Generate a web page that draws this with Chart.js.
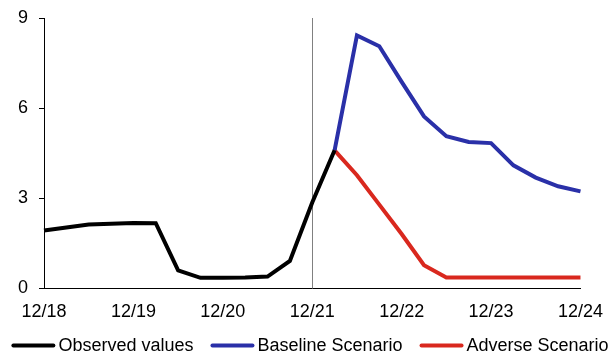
<!DOCTYPE html>
<html>
<head>
<meta charset="utf-8">
<script src="https://cdn.jsdelivr.net/npm/chart.js@4/dist/chart.umd.min.js"></script>
<style>
  html, body { margin: 0; padding: 0; background: #fff; }
  #wrap { width: 616px; height: 356px; position: relative; }
</style>
</head>
<body>
<div id="wrap"><canvas id="c"></canvas></div>
<script>
// Quarter-end dates, Dec 2018 to Dec 2024
const quarters = [
  '12/18', '03/19', '06/19', '09/19',
  '12/19', '03/20', '06/20', '09/20',
  '12/20', '03/21', '06/21', '09/21',
  '12/21', '03/22', '06/22', '09/22',
  '12/22', '03/23', '06/23', '09/23',
  '12/23', '03/24', '06/24', '09/24',
  '12/24'
];

const observedValues = [
  1.92, 2.02, 2.12, 2.14, 2.17, 2.16, 0.59, 0.34, 0.34, 0.35, 0.38, 0.90,
  2.85, 4.59,
  null, null, null, null, null, null, null, null, null, null, null
];

const baselineScenario = [
  null, null, null, null, null, null, null, null, null, null, null, null, null,
  4.59, 8.42, 8.06, 6.87, 5.72, 5.06, 4.87, 4.83, 4.09, 3.68, 3.39, 3.22
];

const adverseScenario = [
  null, null, null, null, null, null, null, null, null, null, null, null, null,
  4.59, 3.76, 2.78, 1.80, 0.76, 0.35, 0.35, 0.35, 0.35, 0.35, 0.35, 0.35
];

const yTicks = [0, 3, 6, 9];
const dividerQuarter = '12/21';

const FONT = "'Liberation Sans', Arial, sans-serif";

// Thin grey vertical rule marking the start of the projection period
const dividerPlugin = {
  id: 'divider',
  beforeDatasetsDraw(chart) {
    const { ctx, chartArea, scales } = chart;
    const x = Math.round(scales.x.getPixelForValue(quarters.indexOf(dividerQuarter))) + 0.5;
    ctx.save();
    ctx.strokeStyle = '#808080';
    ctx.lineWidth = 1;
    ctx.beginPath();
    ctx.moveTo(x, chartArea.top);
    ctx.lineTo(x, chartArea.bottom);
    ctx.stroke();
    ctx.restore();
  }
};

// Single-row legend: short line sample, tight gap, then the series name
const lineLegendPlugin = {
  id: 'lineLegend',
  afterDraw(chart) {
    const { ctx } = chart;
    const sampleLen = 42, sampleGap = 4, itemGap = 18, y = 345.5;
    ctx.save();
    ctx.font = '18px ' + FONT;
    ctx.textBaseline = 'middle';
    ctx.textAlign = 'left';
    const items = chart.data.datasets.map(ds => ({
      text: ds.label,
      color: ds.borderColor,
      w: sampleLen + sampleGap + ctx.measureText(ds.label).width
    }));
    const total = items.reduce((s, it) => s + it.w, 0) + itemGap * (items.length - 1);
    let x = 310.5 - total / 2;
    items.forEach(it => {
      ctx.strokeStyle = it.color;
      ctx.lineWidth = 4;
      ctx.lineCap = 'round';
      ctx.beginPath();
      ctx.moveTo(x + 1, y);
      ctx.lineTo(x + sampleLen - 1, y);
      ctx.stroke();
      ctx.fillStyle = '#000';
      ctx.fillText(it.text, x + sampleLen + sampleGap, y + 1);
      x += it.w + itemGap;
    });
    ctx.restore();
  }
};

new Chart(document.getElementById('c'), {
  type: 'line',
  data: {
    labels: quarters,
    datasets: [
      {
        label: 'Observed values',
        data: observedValues,
        borderColor: '#000000',
        backgroundColor: '#000000',
        borderWidth: 4
      },
      {
        label: 'Baseline Scenario',
        data: baselineScenario,
        borderColor: '#2A30A8',
        backgroundColor: '#2A30A8',
        borderWidth: 4
      },
      {
        label: 'Adverse Scenario',
        data: adverseScenario,
        borderColor: '#D9281E',
        backgroundColor: '#D9281E',
        borderWidth: 4
      }
    ]
  },
  options: {
    responsive: true,
    maintainAspectRatio: false,
    animation: false,
    devicePixelRatio: 1,
    elements: {
      point: { radius: 0, hoverRadius: 0 },
      line: { tension: 0, borderCapStyle: 'butt', borderJoinStyle: 'miter' }
    },
    layout: { padding: { top: 18, right: 35, left: 0, bottom: 0 } },
    plugins: {
      tooltip: { enabled: false },
      legend: { display: false }
    },
    scales: {
      x: {
        type: 'category',
        offset: false,
        afterFit(scale) {
          scale.height = 68;
        },
        grid: { display: false, drawTicks: false },
        border: { display: true, color: '#000', width: 1 },
        ticks: {
          autoSkip: false,
          maxRotation: 0,
          minRotation: 0,
          color: '#000',
          padding: 13,
          font: { family: FONT, size: 18 },
          callback(value, index) {
            const lab = quarters[index];
            return lab.startsWith('12/') ? lab : '';
          }
        }
      },
      y: {
        min: 0,
        max: 9,
        afterFit(scale) {
          scale.width = 44;
          scale.paddingTop = 0;
          scale.paddingBottom = 0;
        },
        afterBuildTicks(scale) { scale.ticks = yTicks.map(v => ({ value: v })); },
        grid: {
          drawOnChartArea: false,
          drawTicks: true,
          tickLength: 5,
          color: '#000'
        },
        border: { display: true, color: '#000', width: 1 },
        ticks: {
          color: '#000',
          padding: 11,
          font: { family: FONT, size: 18 }
        }
      }
    }
  },
  plugins: [dividerPlugin, lineLegendPlugin]
});
</script>
</body>
</html>
